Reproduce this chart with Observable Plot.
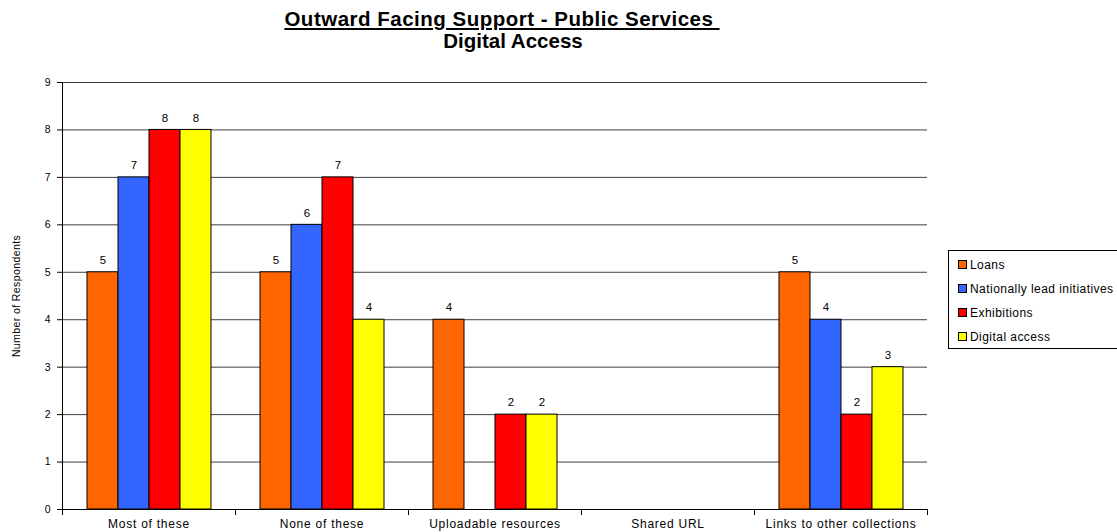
<!DOCTYPE html>
<html>
<head>
<meta charset="utf-8">
<script src="https://cdn.jsdelivr.net/npm/d3@7"></script>
<script src="https://cdn.jsdelivr.net/npm/@observablehq/plot@0.6"></script>
<style>
  html, body { margin: 0; padding: 0; background: #fff; overflow: hidden; width: 1117px; height: 532px; }
  body { font-family: "Liberation Sans", Arial, sans-serif; position: relative; }
  .t { position: absolute; left: 0; text-align: center; font-weight: bold; font-size: 20.5px; line-height: 22px; color: #000; }
  #t1 { top: 8px; width: 1004px; letter-spacing: 0.5px; }
  #t2 { top: 30px; width: 1026px; }
  #t1 .u { text-decoration: underline; text-decoration-thickness: 2px; text-underline-offset: 2px; }
  #chart { position: absolute; left: 0; top: 60px; }
  #chart svg g[aria-label="fx-axis tick label"] text { letter-spacing: 0.75px; }
  #chart svg g[aria-label="y-axis label"] text { letter-spacing: 0.4px; }
  #legend { position: absolute; left: 948px; top: 250px; width: 180px; height: 99px; border: 1px solid #000; box-sizing: border-box; font-size: 12px; letter-spacing: 0.45px; color: #000; }
  #legend .item { position: absolute; left: 9px; height: 14px; line-height: 14px; white-space: nowrap; }
  #legend .sw { display: inline-block; width: 7px; height: 7px; border: 1px solid #000; margin-right: 3px; vertical-align: 0px; }
</style>
</head>
<body>
<div class="t" id="t1"><span class="u">Outward Facing Support - Public Services&nbsp;</span></div>
<div class="t" id="t2">Digital Access</div>
<div id="chart"></div>
<div id="legend"></div>
<script>
const categories = ["Most of these", "None of these", "Uploadable resources", "Shared URL", "Links to other collections"];
const seriesNames = ["Loans", "Nationally lead initiatives", "Exhibitions", "Digital access"];
const loans = [5, 5, 4, null, 5];
const national = [7, 6, null, null, 4];
const exhibitions = [8, 7, 2, null, 2];
const digital = [8, 4, 2, null, 3];
const colors = ["#FF6600", "#3366FF", "#FF0000", "#FFFF00"];
const yTicks = [0, 1, 2, 3, 4, 5, 6, 7, 8, 9];

const seriesValues = [loans, national, exhibitions, digital];
const data = [];
categories.forEach((c, i) => {
  seriesNames.forEach((s, j) => {
    data.push({category: c, series: s, value: seriesValues[j][i]});
  });
});
const labelled = data.filter(d => d.value != null);

const chart = Plot.plot({
  width: 1117,
  height: 472,
  marginTop: 22,
  marginBottom: 23,
  marginLeft: 62,
  marginRight: 190,
  style: {fontFamily: "'Liberation Sans', Arial, sans-serif", fontSize: "10px", color: "#000", background: "transparent"},
  fx: {domain: categories, padding: 0, label: null},
  x: {domain: seriesNames, paddingInner: 0, paddingOuter: 0.746, axis: null},
  y: {domain: [0, 9], ticks: yTicks, label: null},
  color: {domain: seriesNames, range: colors},
  marks: [
    Plot.gridY(yTicks, {stroke: "#000", strokeOpacity: 0.75}),
    Plot.barY(data, {fx: "category", x: "series", y: "value", fill: "series", stroke: "#000", strokeWidth: 1}),
    Plot.text(labelled, {fx: "category", x: "series", y: "value", text: d => String(d.value), dy: -12, fontSize: 11.5}),
    Plot.axisY(yTicks, {tickSize: 5, tickPadding: 7, fontSize: 10.5, label: "Number of Respondents", labelAnchor: "center", labelArrow: "none", labelOffset: 50}),
    Plot.axisFx({anchor: "bottom", tickSize: 0, tickPadding: 10, fontSize: 12, label: null}),
    Plot.ruleY([0], {stroke: "#000"}),
    Plot.frame({anchor: "left", facetAnchor: "left", stroke: "#000"}),
    Plot.frame({anchor: "left", stroke: "#000", insetTop: 427, insetBottom: -5}),
    Plot.frame({anchor: "right", facetAnchor: "right", stroke: "#000", insetTop: 427, insetBottom: -5})
  ]
});
document.getElementById("chart").appendChild(chart);

const legend = document.getElementById("legend");
seriesNames.forEach((s, i) => {
  const item = document.createElement("div");
  item.className = "item";
  item.style.top = (7 + i * 24) + "px";
  item.innerHTML = `<span class="sw" style="background:${colors[i]}"></span>${s}`;
  legend.appendChild(item);
});
</script>
</body>
</html>
